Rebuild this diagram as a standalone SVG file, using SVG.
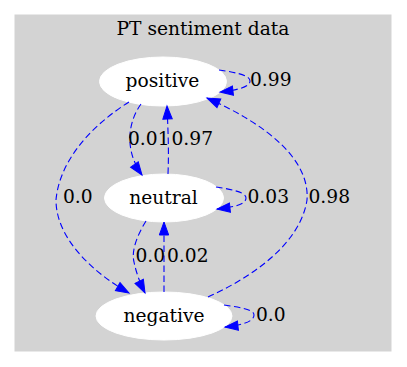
<svg xmlns="http://www.w3.org/2000/svg" width="407" height="367" viewBox="0 0 407 367">
<style>
text{font-family:"DejaVu Serif","Liberation Serif",serif;font-size:18.67px;fill:#000}
.n ellipse{fill:#fff;stroke:#fff}
.e path{fill:none;stroke:#0000ff;stroke-width:1.1;stroke-dasharray:6.5,3.5;marker-end:url(#ah)}
</style>
<defs>
<marker id="ah" markerUnits="userSpaceOnUse" markerWidth="16" markerHeight="12" refX="14" refY="5.5" orient="auto" viewBox="0 0 16 11">
<path d="M1,0.8 L14,5.5 L1,10.2 Z" fill="#0000ff" stroke="#0000ff" stroke-width="1"/>
</marker>
</defs>
<rect width="407" height="367" fill="#fff"/>
<g id="cluster">
<rect x="15" y="15" width="376" height="336" fill="#d3d3d3" stroke="#d3d3d3"/>
<text x="203" y="35" text-anchor="middle">PT sentiment data</text>
</g>
<g id="positive" class="n">
<ellipse cx="163" cy="81.5" rx="63.5" ry="24.5"/>
<text x="162.5" y="87" text-anchor="middle">positive</text>
</g>
<g id="neutral" class="n">
<ellipse cx="164" cy="198" rx="59.5" ry="24"/>
<text x="163.5" y="204" text-anchor="middle">neutral</text>
</g>
<g id="negative" class="n">
<ellipse cx="164" cy="316" rx="68" ry="24"/>
<text x="164" y="322" text-anchor="middle">negative</text>
</g>
<g id="edges" class="e">
<path d="M129,102 C100,120 60,155 56,200 C56,238 92,272 129,293"/>
<path d="M141,104 C128,122 124,150 142,175"/>
<path d="M168,174 C169,150 168,130 167,106"/>
<path d="M219,70 C240,73 250,76 250,81 C250,87 238,90 220,92"/>
<path d="M208,297 C250,278 300,245 307,200 C310,160 268,125 207,98"/>
<path d="M216,187 C236,190 246,193 246,198 C246,204 236,207 217,209"/>
<path d="M146,221 C138,234 131,250 134,262 C136,272 140,283 145,293"/>
<path d="M164,292 L164,222"/>
<path d="M224,305 C244,308 254,310 254,315 C254,321 244,325 225,327"/>
</g>
<g id="labels">
<text x="250" y="86">0.99</text>
<text x="128" y="145">0.01</text>
<text x="171.5" y="145">0.97</text>
<text x="63" y="203">0.0</text>
<text x="247.5" y="203">0.03</text>
<text x="308.5" y="203">0.98</text>
<text x="135.5" y="262">0.0</text>
<text x="167" y="262">0.02</text>
<text x="256" y="321">0.0</text>
</g>
</svg>
